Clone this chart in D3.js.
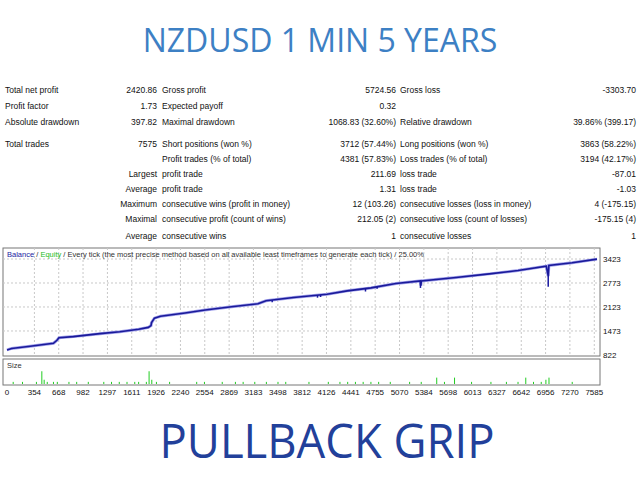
<!DOCTYPE html>
<html><head><meta charset="utf-8">
<script src="https://cdn.jsdelivr.net/npm/d3@7"></script>
<style>body{margin:0;background:#fff}svg{display:block}</style>
</head><body><svg width="640" height="480"></svg>
<script>
// report table rows: [label1, value1, label2a, label2b, value2, label3, value3]
const reportRows = [
  ["Total net profit", "2420.86", "", "Gross profit", "5724.56", "Gross loss", "-3303.70"],
  ["Profit factor", "1.73", "", "Expected payoff", "0.32", "", ""],
  ["Absolute drawdown", "397.82", "", "Maximal drawdown", "1068.83 (32.60%)", "Relative drawdown", "39.86% (399.17)"],
  ["Total trades", "7575", "", "Short positions (won %)", "3712 (57.44%)", "Long positions (won %)", "3863 (58.22%)"],
  ["", "", "", "Profit trades (% of total)", "4381 (57.83%)", "Loss trades (% of total)", "3194 (42.17%)"],
  ["", "", "Largest", "profit trade", "211.69", "loss trade", "-87.01"],
  ["", "", "Average", "profit trade", "1.31", "loss trade", "-1.03"],
  ["", "", "Maximum", "consecutive wins (profit in money)", "12 (103.26)", "consecutive losses (loss in money)", "4 (-175.15)"],
  ["", "", "Maximal", "consecutive profit (count of wins)", "212.05 (2)", "consecutive loss (count of losses)", "-175.15 (4)"],
  ["", "", "Average", "consecutive wins", "1", "consecutive losses", "1"]
];
const rowY = [93, 109, 125, 147, 162, 177, 192, 207, 222, 239];

const yTicks = [822, 1473, 2123, 2773, 3423];
const xTicks = [0, 354, 668, 982, 1297, 1611, 1926, 2240, 2554, 2869, 3183, 3498, 3812, 4126, 4441, 4755, 5070, 5384, 5698, 6013, 6327, 6642, 6956, 7270, 7585];

// balance curve (trade #, balance)
const balTrade = [0, 60, 300, 600, 645, 671, 855, 1200, 1458, 1700, 1825, 1860, 1867, 1904, 1982, 2300, 2559, 2900, 3241, 3346, 3700, 4133, 4395, 4700, 5024, 5339, 5345, 5352, 5800, 6230, 6600, 6965, 6990, 6998, 7300, 7620];
const balValue = [960, 1000, 1060, 1140, 1220, 1290, 1320, 1400, 1450, 1520, 1570, 1620, 1700, 1820, 1870, 1960, 2040, 2130, 2210, 2290, 2380, 2470, 2560, 2640, 2760, 2830, 2700, 2830, 2920, 3020, 3110, 3230, 2960, 3250, 3320, 3420];
// equity dips below balance (trade #, drop)
const dipTrade = [3425, 4010, 4050, 4630, 4780, 5340, 6990];
const dipDrop = [60, 70, 60, 80, 50, 170, 290];

// size panel bars (trade #, size)
const sizeTrade = [80, 200, 380, 450, 480, 520, 600, 650, 800, 900, 1050, 1250, 1350, 1450, 1550, 1650, 1700, 1800, 1835, 1870, 1930, 2100, 2450, 2550, 2780, 2950, 3050, 3200, 3350, 3500, 3600, 3900, 4150, 4300, 4400, 4500, 4600, 4700, 4800, 4950, 5200, 5350, 5550, 5650, 5780, 6000, 6250, 6450, 6600, 6700, 6800, 6900, 6960, 7000, 7300];
const sizeValue = [1, 1, 1, 6, 2, 1, 1, 1, 1, 1, 1, 1, 1, 1, 1, 1, 1, 1, 6, 2, 1, 1, 1, 1, 1, 1, 1, 1, 1, 1, 1, 1, 1, 1, 1, 1, 1, 1, 1, 1, 1, 1, 3, 1, 3, 1, 1, 1, 1, 3, 1, 1, 2, 3, 1];

const svg = d3.select("svg");

svg.append("text").attr("x", 320).attr("y", 52).attr("text-anchor", "middle")
  .attr("font-family", "Open Sans, sans-serif").attr("font-size", 32)
  .attr("fill", "#3d80c4").text("NZDUSD 1 MIN 5 YEARS");

svg.append("text").attr("x", 327).attr("y", 458).attr("text-anchor", "middle")
  .attr("font-family", "Open Sans, sans-serif").attr("font-size", 47)
  .attr("textLength", 335).attr("lengthAdjust", "spacingAndGlyphs")
  .attr("fill", "#22409a").text("PULLBACK GRIP");

// table
const tf = "Liberation Sans, Arial, sans-serif";
const tbl = svg.append("g").attr("font-family", tf).attr("font-size", 8.5).attr("fill", "#111");
reportRows.forEach((r, i) => {
  const y = rowY[i];
  const cells = [[5, r[0], "start"], [157, r[1], "end"], [157, r[2], "end"], [162, r[3], "start"],
                 [396, r[4], "end"], [400, r[5], "start"], [636, r[6], "end"]];
  cells.forEach(([x, t, a]) => {
    if (t) tbl.append("text").attr("x", x).attr("y", y).attr("text-anchor", a).text(t);
  });
});

// chart panels
const L = 3, R = 600, T = 248, B = 356, sT = 359, sB = 385;
const x = d3.scaleLinear().domain([0, 7620]).range([L + 4, R - 3]);
const y = d3.scaleLinear().domain([822, 3423]).range([B - 1, 259]);
const ys = d3.scaleLinear().domain([0, 8]).range([sB - 1, sT + 8]);

svg.append("rect").attr("x", L).attr("y", T).attr("width", R - L).attr("height", B - T)
  .attr("fill", "#fff").attr("stroke", "#777");
svg.append("rect").attr("x", L).attr("y", sT).attr("width", R - L).attr("height", sB - sT)
  .attr("fill", "#fff").attr("stroke", "#777");

const grid = svg.append("g").attr("stroke", "#c8c8c8").attr("stroke-dasharray", "2,2");
yTicks.slice(1).forEach(v => grid.append("line").attr("x1", L).attr("x2", R).attr("y1", y(v)).attr("y2", y(v)));
xTicks.slice(1).forEach(v => grid.append("line").attr("x1", x(v)).attr("x2", x(v)).attr("y1", T).attr("y2", B));

const lab = svg.append("g").attr("font-family", tf).attr("font-size", 8).attr("fill", "#111");
yTicks.forEach(v => lab.append("text").attr("x", R + 3).attr("y", y(v) + 3).text(v));
xTicks.forEach(v => lab.append("text").attr("x", x(v)).attr("y", 395).attr("text-anchor", "middle").text(v));

// legend
const lg = svg.append("text").attr("x", L + 4).attr("y", T + 9).attr("font-family", tf).attr("font-size", 7.5);
lg.append("tspan").attr("fill", "#1a1aa0").text("Balance");
lg.append("tspan").attr("fill", "#333").text(" / ");
lg.append("tspan").attr("fill", "#22bb22").text("Equity");
lg.append("tspan").attr("fill", "#333").text(" / Every tick (the most precise method based on all available least timeframes to generate each tick) / 25.00%");
svg.append("text").attr("x", L + 4).attr("y", sT + 9).attr("font-family", tf).attr("font-size", 7.5).attr("fill", "#333").text("Size");

// equity (light) and balance
const pts = balTrade.map((t, i) => [t, balValue[i]]);
const line = d3.line().x(d => x(d[0])).y(d => y(d[1]));
svg.append("path").datum(pts).attr("d", line).attr("fill", "none").attr("stroke", "#a0a0ea").attr("stroke-width", 3);
dipTrade.forEach((t, i) => {
  const j = d3.bisectRight(balTrade, t);
  const v = balValue[j - 1] + (balValue[j] - balValue[j - 1]) * (t - balTrade[j - 1]) / (balTrade[j] - balTrade[j - 1]);
  svg.append("line").attr("x1", x(t)).attr("x2", x(t)).attr("y1", y(v)).attr("y2", y(v - dipDrop[i]))
    .attr("stroke", "#1a1aa0").attr("stroke-width", 1.5);
});
svg.append("path").datum(pts).attr("d", line).attr("fill", "none").attr("stroke", "#1a1a9a").attr("stroke-width", 1.6);

// size bars
svg.append("g").selectAll("line").data(sizeTrade).join("line")
  .attr("x1", d => x(d)).attr("x2", d => x(d))
  .attr("y1", ys(0)).attr("y2", (d, i) => ys(sizeValue[i]))
  .attr("stroke", "#22cc22").attr("stroke-width", 1);
</script></body></html>
